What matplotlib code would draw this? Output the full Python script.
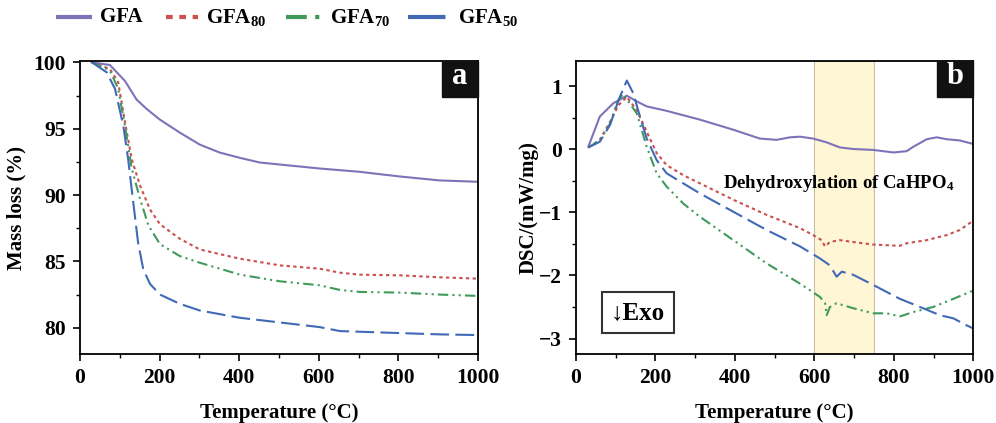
import matplotlib
matplotlib.use("Agg")
import matplotlib.pyplot as plt
from matplotlib.lines import Line2D
from matplotlib.patches import Rectangle

plt.rcParams['font.family'] = ['Liberation Serif', 'DejaVu Serif']
plt.rcParams['font.weight'] = 'bold'
plt.rcParams['mathtext.fontset'] = 'custom'
plt.rcParams['mathtext.rm'] = 'Liberation Serif:bold'
plt.rcParams['mathtext.it'] = 'Liberation Serif:bold'
plt.rcParams['mathtext.bf'] = 'Liberation Serif:bold'

# ---------------- data: TGA (panel a) ----------------
tga_gfa_x = [29, 75, 113, 142, 167, 200, 251, 301, 351, 402, 452, 502, 602, 703, 745, 803, 904, 1000]
tga_gfa_y = [100.0, 99.8, 98.6, 97.2, 96.5, 95.7, 94.7, 93.8, 93.2, 92.8, 92.45, 92.3, 92.0, 91.75, 91.6, 91.4, 91.1, 91.0]

tga_80_x = [30, 75, 96, 113, 130, 151, 176, 201, 251, 301, 402, 502, 602, 653, 703, 803, 904, 1000]
tga_80_y = [100.0, 99.5, 98.5, 95.5, 92.7, 90.7, 88.9, 87.8, 86.7, 85.9, 85.2, 84.7, 84.45, 84.15, 84.0, 83.95, 83.8, 83.7]

tga_70_x = [30, 75, 96, 113, 130, 151, 172, 201, 251, 301, 402, 502, 602, 653, 703, 803, 904, 1000]
tga_70_y = [100.0, 99.4, 98.0, 95.2, 92.0, 89.7, 87.7, 86.3, 85.4, 84.9, 84.0, 83.5, 83.2, 82.85, 82.7, 82.65, 82.5, 82.4]

tga_50_x = [30, 67, 88, 109, 121, 134, 146, 159, 176, 201, 251, 301, 402, 502, 602, 653, 703, 803, 904, 1000]
tga_50_y = [100.0, 99.25, 98.0, 95.2, 92.7, 89.4, 86.4, 84.4, 83.3, 82.5, 81.8, 81.3, 80.75, 80.4, 80.05, 79.75, 79.7, 79.6, 79.5, 79.45]

# ---------------- data: DSC (panel b) ----------------
dsc_gfa_x = [31, 60, 94, 128, 153, 178, 228, 312, 396, 463, 505, 539, 564, 597, 631, 664, 698, 748, 799, 832, 849, 883, 908, 933, 966, 1000]
dsc_gfa_y = [0.04, 0.52, 0.73, 0.85, 0.76, 0.68, 0.61, 0.47, 0.31, 0.17, 0.15, 0.19, 0.20, 0.17, 0.11, 0.03, 0.005, -0.01, -0.05, -0.03, 0.04, 0.16, 0.19, 0.16, 0.14, 0.085]

dsc_80_x = [31, 60, 86, 107, 128, 153, 178, 203, 228, 270, 312, 396, 480, 564, 597, 618, 627, 639, 664, 698, 748, 815, 832, 883, 933, 966, 1000]
dsc_80_y = [0.03, 0.15, 0.44, 0.70, 0.83, 0.62, 0.28, -0.06, -0.25, -0.41, -0.54, -0.80, -1.04, -1.25, -1.36, -1.44, -1.54, -1.47, -1.44, -1.47, -1.51, -1.53, -1.49, -1.44, -1.36, -1.28, -1.13]

dsc_70_x = [31, 60, 86, 102, 118, 153, 178, 203, 228, 270, 312, 396, 480, 564, 614, 627, 631, 639, 656, 698, 748, 782, 815, 849, 899, 950, 1000]
dsc_70_y = [0.03, 0.14, 0.41, 0.72, 0.88, 0.57, 0.04, -0.38, -0.59, -0.86, -1.07, -1.44, -1.81, -2.13, -2.34, -2.44, -2.63, -2.50, -2.44, -2.52, -2.60, -2.60, -2.65, -2.58, -2.50, -2.37, -2.24]

dsc_50_x = [31, 60, 86, 107, 128, 144, 161, 178, 203, 228, 270, 312, 396, 480, 564, 614, 639, 656, 669, 698, 748, 815, 866, 916, 950, 983, 1000]
dsc_50_y = [0.03, 0.12, 0.39, 0.78, 1.09, 0.89, 0.52, 0.17, -0.17, -0.38, -0.54, -0.70, -0.99, -1.28, -1.54, -1.73, -1.84, -2.02, -1.94, -1.99, -2.15, -2.37, -2.50, -2.63, -2.68, -2.79, -2.84]

labels = ['GFA', 'GFA$_{80}$', 'GFA$_{70}$', 'GFA$_{50}$']
colors = ['#7f72b9', '#c9504f', '#3f9a5c', '#4169b5']
styles = ['-', (0, (1.6, 1.6)), (0, (5, 2, 1, 2, 1, 2)), (0, (9, 3))]

W, H = 996, 423
fig = plt.figure(figsize=(W / 100, H / 100), dpi=100)
axA = fig.add_axes([0.0803, 0.1624, 0.3997, 0.6934])
axB = fig.add_axes([0.5783, 0.1624, 0.3989, 0.6934])

tga = [(tga_gfa_x, tga_gfa_y), (tga_80_x, tga_80_y), (tga_70_x, tga_70_y), (tga_50_x, tga_50_y)]
dsc = [(dsc_gfa_x, dsc_gfa_y), (dsc_80_x, dsc_80_y), (dsc_70_x, dsc_70_y), (dsc_50_x, dsc_50_y)]

for (x, y), c, s in zip(tga, colors, styles):
    axA.plot(x, y, color=c, ls=s, lw=1.5)
for (x, y), c, s in zip(dsc, colors, styles):
    axB.plot(x, y, color=c, ls=s, lw=1.5)

axB.axvspan(600, 750, facecolor='#fff6d5', edgecolor='#c8bfa0', lw=0.8, zorder=0)

axA.set_xlim(0, 1000)
axA.set_ylim(78, 100.1)
axA.set_yticks([80, 85, 90, 95, 100])
axA.set_yticks([82.5, 87.5, 92.5, 97.5], minor=True)
axB.set_xlim(0, 1000)
axB.set_ylim(-3.25, 1.4)
axB.set_yticks([-3, -2, -1, 0, 1])
axB.set_yticks([-2.5, -1.5, -0.5, 0.5], minor=True)

for ax in (axA, axB):
    ax.set_xticks([0, 200, 400, 600, 800, 1000])
    ax.set_xticks([100, 300, 500, 700, 900], minor=True)
    ax.tick_params(which='major', direction='out', length=5, width=1.2, labelsize=15.5, pad=5)
    ax.tick_params(which='minor', direction='out', length=3, width=1.0)
    for sp in ax.spines.values():
        sp.set_linewidth(1.3)
    for lab in ax.get_xticklabels() + ax.get_yticklabels():
        lab.set_fontweight('bold')
    ax.set_xlabel('Temperature (°C)', fontsize=15, fontweight='bold', labelpad=11)

axA.set_ylabel('Mass loss (%)', fontsize=15, fontweight='bold', labelpad=5)
axB.set_ylabel('DSC/(mW/mg)', fontsize=15, fontweight='bold', labelpad=0)

# panel labels (black boxes top-right)
for ax, t in ((axA, 'a'), (axB, 'b')):
    bw, bh = 36 / 398.0, 36 / 293.3
    ax.add_patch(Rectangle((1 - bw, 1 - bh), bw, bh, transform=ax.transAxes,
                           facecolor='#111111', edgecolor='#111111', zorder=5, clip_on=False))
    ax.text(1 - bw / 2, 1 - bh / 2 + 0.008, t, transform=ax.transAxes, ha='center', va='center',
            color='white', fontsize=22, fontweight='bold', zorder=6)

axB.text(370, -0.535, 'Dehydroxylation of CaHPO$_4$', fontsize=13.5, fontweight='bold',
         ha='left', va='center')
axB.text(0.156, 0.142, '↓Exo', transform=axB.transAxes, fontsize=18, fontweight='bold',
         ha='center', va='center', family=['Liberation Serif', 'DejaVu Sans'],
         bbox=dict(boxstyle='square,pad=0.35', facecolor='white', edgecolor='#333333', lw=1.5))

# legend row at the top (manually laid out, figure coordinates in pixels)
leg_handle_x = [(56, 92), (166, 198), (286, 322), (408, 450)]
ly = 1 - 17 / H
for (x0, x1), lab, c, s in zip(leg_handle_x, labels, colors, styles):
    fig.add_artist(Line2D([x0 / W, x1 / W], [ly, ly], transform=fig.transFigure,
                          color=c, ls=s, lw=3, solid_capstyle='butt', dash_capstyle='butt'))
    fig.text((x1 + 8) / W, ly, lab, fontsize=15, fontweight='bold', ha='left', va='center')

fig.savefig('out.png', dpi=100)
